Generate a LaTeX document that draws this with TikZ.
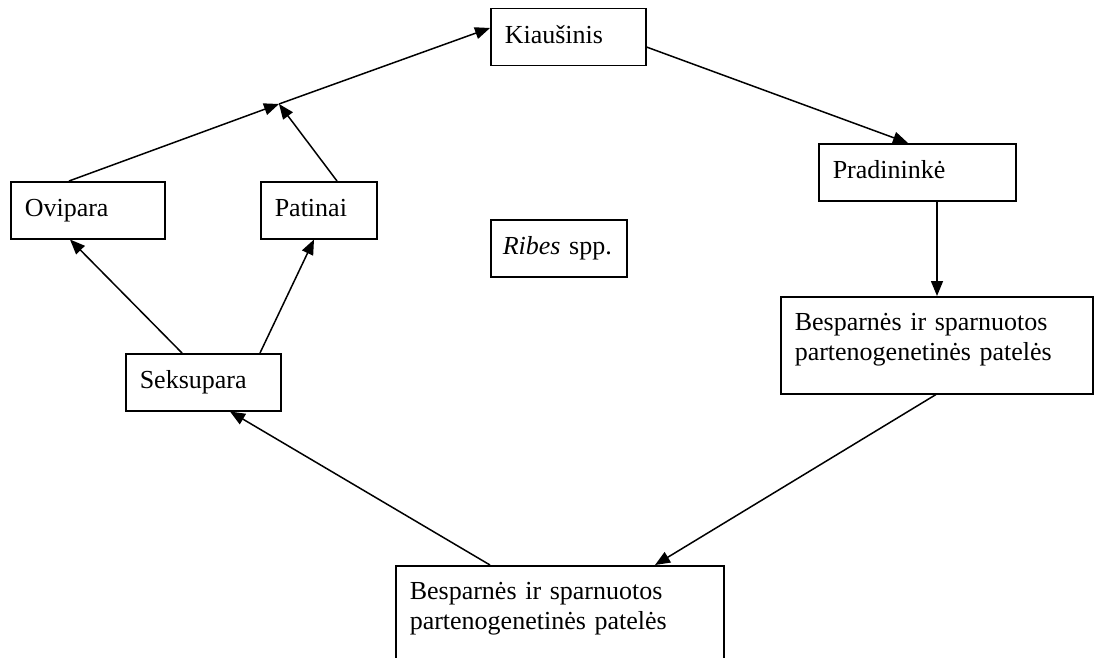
\documentclass[tikz,border=0pt]{standalone}
\usepackage{fontspec}
\setmainfont{Liberation Serif}
\usetikzlibrary{arrows.meta}
\begin{document}
\begin{tikzpicture}[x=1pt,y=-1pt,
  box/.style={draw, line width=1.5pt, anchor=north west, align=left,
    inner xsep=14pt, inner ysep=0pt, font=\fontsize{26pt}{30pt}\selectfont},
  onebox/.style={box, minimum height=57pt, text height=18pt, text depth=6pt},
  twobox/.style={box, minimum height=97pt, text height=18pt, text depth=47pt},
  arr/.style={line width=1.5pt, -{Triangle[length=15pt,width=12pt]}},
  ln/.style={line width=1.5pt}]
\useasboundingbox (0,0) rectangle (1094,658);
\fill[white] (0,0) rectangle (1094,658);

\node[onebox, text width=127pt] (kia) at (490,8) {Kiaušinis};
\node[onebox, text width=169pt] (pra) at (818,143) {Pradininkė};
\node[onebox, text width=112pt, inner xsep=12pt] (rib) at (490,219) {\textit{Ribes} spp.};
\node[onebox, text width=126pt] (ovi) at (10,181) {Ovipara};
\node[onebox, text width=88pt] (pat) at (260,181) {Patinai};
\node[onebox, text width=127pt] (sek) at (125,353) {Seksupara};
\node[twobox, text width=284pt] (bs1) at (780,296) {Besparnės ir sparnuotos\\partenogenetinės patelės};
\node[twobox, text width=300pt] (bs2) at (395,565) {Besparnės ir sparnuotos\\partenogenetinės patelės};

\coordinate (j) at (279,104);

\draw[arr] ([xshift=59pt]ovi.north west) -- (j);
\draw[arr] ([xshift=77pt]pat.north west) -- (j);
\draw[arr] (j) -- ([yshift=-20pt]kia.north west);
\draw[arr] ([yshift=-39pt]kia.north east) -- ([xshift=90pt]pra.north west);
\draw[arr] ([xshift=119pt]pra.south west) -- ([xshift=157pt]bs1.north west);
\draw[arr] ([xshift=156pt]bs1.south west) -- ([xshift=260pt]bs2.north west);
\draw[arr] ([xshift=95pt]bs2.north west) -- ([xshift=105pt]sek.south west);
\draw[arr] ([xshift=57pt]sek.north west) -- ([xshift=60pt]ovi.south west);
\draw[arr] ([xshift=135pt]sek.north west) -- ([xshift=54pt]pat.south west);
\end{tikzpicture}
\end{document}
